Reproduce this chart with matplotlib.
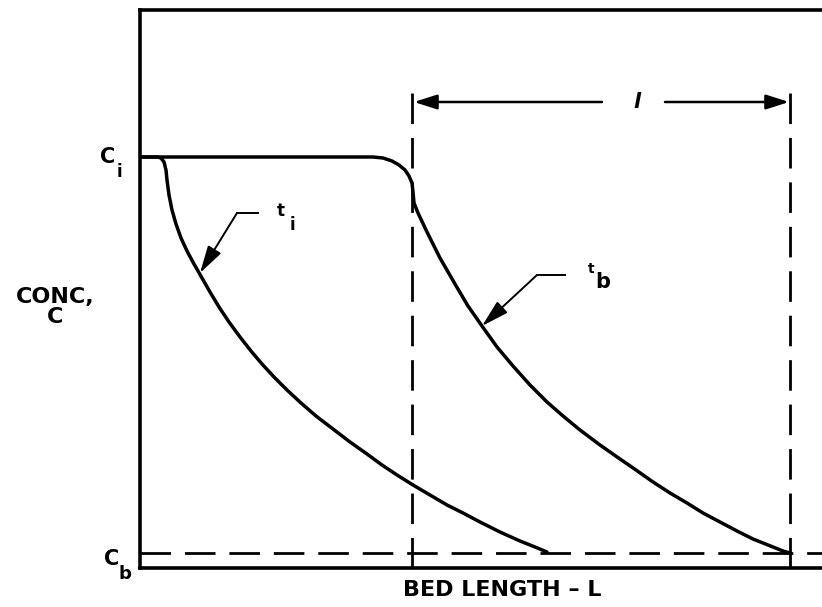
import matplotlib
matplotlib.use("Agg")
import matplotlib.pyplot as plt

# ---- data (x: bed length, arbitrary units; y: concentration, arbitrary units) ----
# concentration profile at breakthrough time t_b (saturated zone, then the front)
tb_x = [0, 233, 243, 252, 259, 265, 269, 272, 273, 274, 278, 287, 300, 315, 328,
        342, 357, 373, 390, 407, 423, 440, 460, 480, 496, 513, 530, 547, 563, 580,
        597, 613, 628, 643, 650]
tb_y = [411, 411, 410, 407, 403, 398, 392, 385, 376, 365, 355, 336, 310, 284, 262,
        242, 221, 202, 183, 166, 152, 138, 123, 109, 98, 86, 75, 65, 55, 46,
        37, 29, 23, 17, 15]
# concentration profile at an earlier time t_i
ti_x = [0, 17, 21, 24, 26, 27, 29, 32, 36, 41, 47, 54, 62, 70, 79, 89, 100, 111,
        122, 134, 147, 161, 176, 193, 210, 227, 242, 257, 273, 290, 307, 323, 340,
        360, 380, 395, 407]
ti_y = [411, 411, 410, 406, 398, 388, 373, 358, 344, 330, 317, 304, 290, 276, 261,
        246, 231, 217, 204, 191, 178, 165, 152, 139, 126, 114, 103, 93, 83, 73,
        63, 55, 46, 36, 27, 21, 16]

c_i = 411              # inlet concentration C_i
c_b = 15               # breakthrough concentration C_b
x_front_start = 272    # left dashed line
x_breakthrough = 650   # right dashed line
dim_y = 466            # level of the dimension arrow "l"
dash_top = 483
x_max = 682
y_max = 558

# leaders: (tip, corner, end)
ti_leader = [(60, 295), (97, 355), (118, 355)]
tb_leader = [(342, 242), (397, 293), (425, 293)]

W, H = 822, 607
fig = plt.figure(figsize=(W / 100, H / 100), dpi=100)
ax = fig.add_axes([140 / W, (H - 568) / H, (W - 140) / W, 558 / H])
ax.set_xlim(0, x_max)
ax.set_ylim(0, y_max)
ax.set_xticks([])
ax.set_yticks([])
for s in ["left", "bottom", "top"]:
    ax.spines[s].set_linewidth(2.6)
    ax.spines[s].set_color("black")
ax.spines["right"].set_visible(False)

lw_curve = 2.5
ax.plot(tb_x, tb_y, color="black", lw=lw_curve, solid_joinstyle="round",
        solid_capstyle="round")
ax.plot(ti_x, ti_y, color="black", lw=lw_curve, solid_joinstyle="round",
        solid_capstyle="round")

# dashed reference lines
dash_kw = dict(color="black", lw=2.0, dashes=(11, 5))
ax.plot([0, x_max], [c_b, c_b], **dash_kw)
ax.plot([x_front_start, x_front_start], [0, dash_top], **dash_kw)
ax.plot([x_breakthrough, x_breakthrough], [0, dash_top], **dash_kw)

# dimension arrow "l"
arr = dict(arrowstyle="-|>,head_length=1.0,head_width=0.32", color="black",
           lw=1.8, shrinkA=0, shrinkB=0, mutation_scale=14)
ax.annotate("", xy=(x_front_start + 2, dim_y), xytext=(462, dim_y), arrowprops=arr)
ax.annotate("", xy=(x_breakthrough - 1, dim_y), xytext=(525, dim_y), arrowprops=arr)
ax.text(497, dim_y, "l", fontsize=15, fontweight="bold", ha="center",
        va="center", style="italic")

# leaders
lead = dict(arrowstyle="-|>,head_length=1.2,head_width=0.33", color="black",
            lw=1.4, shrinkA=0, shrinkB=0, mutation_scale=14)
for tip, corner, end in (ti_leader, tb_leader):
    ax.plot([corner[0], end[0]], [corner[1], end[1]], color="black", lw=1.4)
    ax.annotate("", xy=tip, xytext=corner, arrowprops=lead)

font = dict(fontweight="bold", color="black", clip_on=False)
ax.text(141, 357, "t", fontsize=12, ha="center", va="center", **font)
ax.text(152, 343, "i", fontsize=12, ha="center", va="center", **font)
ax.text(451, 299, "t", fontsize=10, ha="center", va="center", **font)
ax.text(463, 286, "b", fontsize=15, ha="center", va="center", **font)

# axis labels
ax.text(-32, c_i, "C", fontsize=15, ha="center", va="center", **font)
ax.text(-21, c_i - 15, "i", fontsize=12, ha="center", va="center", **font)
ax.text(-28, 9, "C", fontsize=15, ha="center", va="center", **font)
ax.text(-15, -6, "b", fontsize=13, ha="center", va="center", **font)
ax.text(-85, 261, "CONC,\nC", fontsize=16, ha="center", va="center",
        multialignment="center", linespacing=1.05, **font)
ax.text(362, -22, "BED LENGTH \u2013 L", fontsize=16, ha="center",
        va="center", **font)

fig.savefig("out.png", dpi=100)
